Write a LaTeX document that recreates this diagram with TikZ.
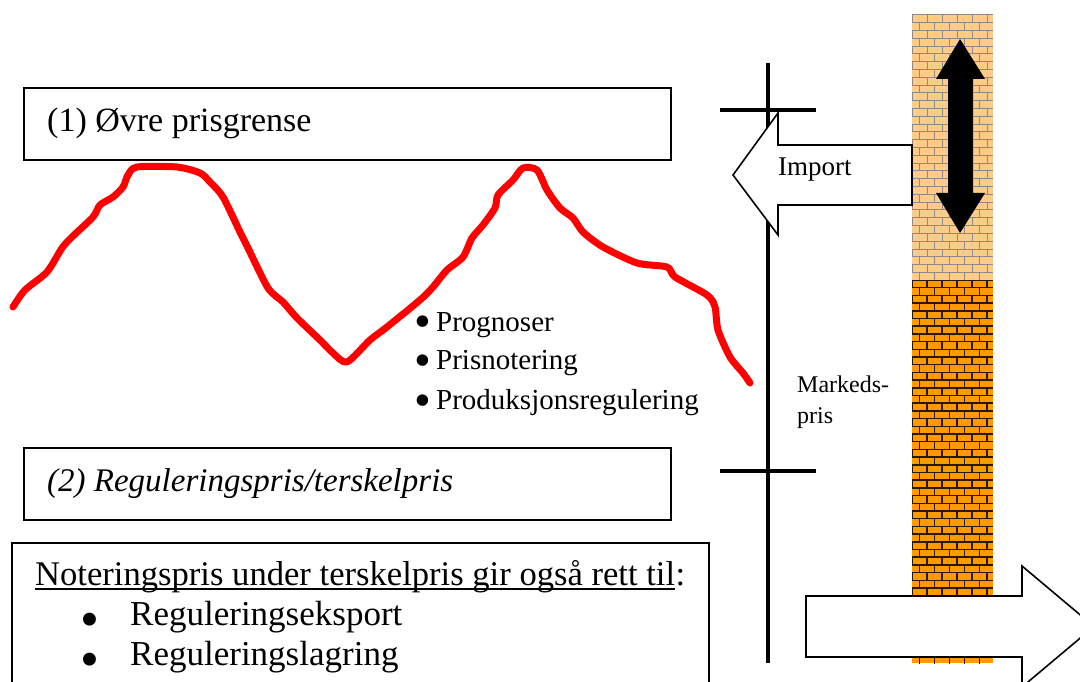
\documentclass[tikz,border=0pt]{standalone}
\usepackage{fontspec}
\setmainfont{Liberation Serif}
\usetikzlibrary{calc}
\definecolor{brickLight}{HTML}{FFCC88}
\definecolor{mortarLight}{HTML}{8A8A8A}
\definecolor{brickDark}{HTML}{FF9900}
\definecolor{mortarDark}{HTML}{2A1800}
\definecolor{curveRed}{HTML}{FF0000}
\tikzset{
  framebox/.style={draw=black, line width=2pt, fill=white},
  blockarrow/.style={draw=black, line width=1.6pt, fill=white, line join=miter},
  axisline/.style={line width=4.5pt, draw=black},
  txt/.style={inner sep=0pt, anchor=base west},
  dotsmall/.style={inner sep=0pt, anchor=center, font=\fontsize{48}{48}\selectfont},
  dotbig/.style={inner sep=0pt, anchor=center, font=\fontsize{54}{54}\selectfont},
}
\begin{document}
\begin{tikzpicture}[x=1pt,y=-1pt]
\useasboundingbox (0,0) rectangle (1080,682);
\begin{scope}
\clip (0,0) rectangle (1080,682);
% brick column, light upper part
\begin{scope}
\clip (912,15) rectangle (993,280);
\fill[brickLight] (912,15) rectangle (993,280);
\foreach \i in {0,...,34} {
  \pgfmathsetmacro\yy{15+\i*7.8}
  \pgfmathsetmacro\yb{\yy+7.8}
  \pgfmathsetmacro\off{mod(\i,2)*7.5}
  \draw[mortarLight, line width=1pt] (912,\yy) -- (993,\yy);
  \foreach \k in {0,...,5} {
    \pgfmathsetmacro\xx{912+\off+\k*15}
    \draw[mortarLight, line width=1pt] (\xx,\yy) -- (\xx,\yb);
  }
}
\end{scope}
% brick column, dark lower part
\begin{scope}
\clip (912,280) rectangle (993,663);
\fill[brickDark] (912,280) rectangle (993,663);
\foreach \i in {0,...,49} {
  \pgfmathsetmacro\yy{280+\i*7.7}
  \pgfmathsetmacro\yb{\yy+7.7}
  \pgfmathsetmacro\off{mod(\i,2)*7.5}
  \draw[mortarDark, line width=1.5pt] (912,\yy) -- (993,\yy);
  \foreach \k in {0,...,5} {
    \pgfmathsetmacro\xx{912+\off+\k*15}
    \draw[mortarDark, line width=1.5pt] (\xx,\yy) -- (\xx,\yb);
  }
}
\end{scope}
% axis
\coordinate (axTop) at (768,63);
\coordinate (axBot) at (768,663);
\coordinate (t1a) at (720,110);
\coordinate (t1b) at (816,110);
\coordinate (t2a) at (720,471);
\coordinate (t2b) at (816,471);
\draw[axisline] (axTop) -- (axBot);
\draw[axisline] (t1a) -- (t1b);
\draw[axisline] (t2a) -- (t2b);
% import arrow
\draw[blockarrow] (912,145) -- (778,145) -- (778,113) -- (733,175) -- (778,235) -- (778,205) -- (912,205) -- cycle;
% export arrow
\draw[blockarrow] (806,596) -- (1022,596) -- (1022,566) -- (1094,626.5) -- (1022,687) -- (1022,657) -- (806,657) -- cycle;
% double arrow
\fill[black] (960,39) -- (985,79) -- (973,79) -- (973,193) -- (985,193) -- (960,233) -- (936,193) -- (948,193) -- (948,79) -- (936,79) -- cycle;
% boxes
\draw[framebox] (24,88) rectangle (671,160);
\draw[framebox] (24,448) rectangle (671,520);
\draw[framebox] (12,543) rectangle (709,700);
% red curve
\draw[curveRed, line width=7pt, line cap=round, line join=round] plot[smooth, tension=0.45] coordinates {
(13,307) (25,290) (47,272) (62,248) (72,237) (93,217) (100,205) (113,197) (123,187) (128,175) (137,167)
(177,167) (200,173) (210,182) (223,197) (240,232) (248,248) (268,288) (283,302) (297,318) (320,340) (333,353)
(347,362) (370,340) (387,327) (420,300) (433,287) (447,270) (463,257) (472,238) (483,225) (495,208) (498,195)
(513,180) (523,168) (537,170) (547,190) (560,208) (573,218) (583,232) (603,247) (637,263) (667,267) (675,277)
(707,295) (715,307) (718,330) (730,357) (743,373) (750,383)};
\end{scope}
% texts
\node[txt, font=\fontsize{34}{36}\selectfont] (upper) at (47,132) {(1) Øvre prisgrense};
\node[txt, font=\fontsize{33}{35}\selectfont\itshape] (lower) at (47,491) {(2) Reguleringspris/terskelpris};
\node[txt, font=\fontsize{27}{29}\selectfont] (imp) at (778,176) {Import};
\node[txt, font=\fontsize{24}{26}\selectfont] (mk1) at (797,392) {Markeds-};
\node[txt, font=\fontsize{24}{26}\selectfont] (mk2) at (797,423) {pris};
\node[dotsmall] (p1) at (423,327) {•};
\node[dotsmall] (p2) at (423,366) {•};
\node[dotsmall] (p3) at (423,406) {•};
\node[txt, font=\fontsize{29}{31}\selectfont] (b1) at (436,331) {Prognoser};
\node[txt, font=\fontsize{29}{31}\selectfont] (b2) at (436,369) {Prisnotering};
\node[txt, font=\fontsize{29}{31}\selectfont] (b3) at (436,409) {Produksjonsregulering};
\node[txt, font=\fontsize{34.6}{36}\selectfont] (head) at (35,585) {Noteringspris under terskelpris gir også rett til};
\node[txt, font=\fontsize{34.6}{36}\selectfont] (colon) at (head.base east) {:};
\draw[line width=1.8pt] ($(head.base west)+(0,4)$) -- ($(head.base east)+(0,4)$);
\node[dotbig] (d1) at (90,625) {•};
\node[txt, font=\fontsize{35}{37}\selectfont] (r1) at (130,625) {Reguleringseksport};
\node[dotbig] (d2) at (90,665) {•};
\node[txt, font=\fontsize{35}{37}\selectfont] (r2) at (130,665) {Reguleringslagring};
\end{tikzpicture}
\end{document}
